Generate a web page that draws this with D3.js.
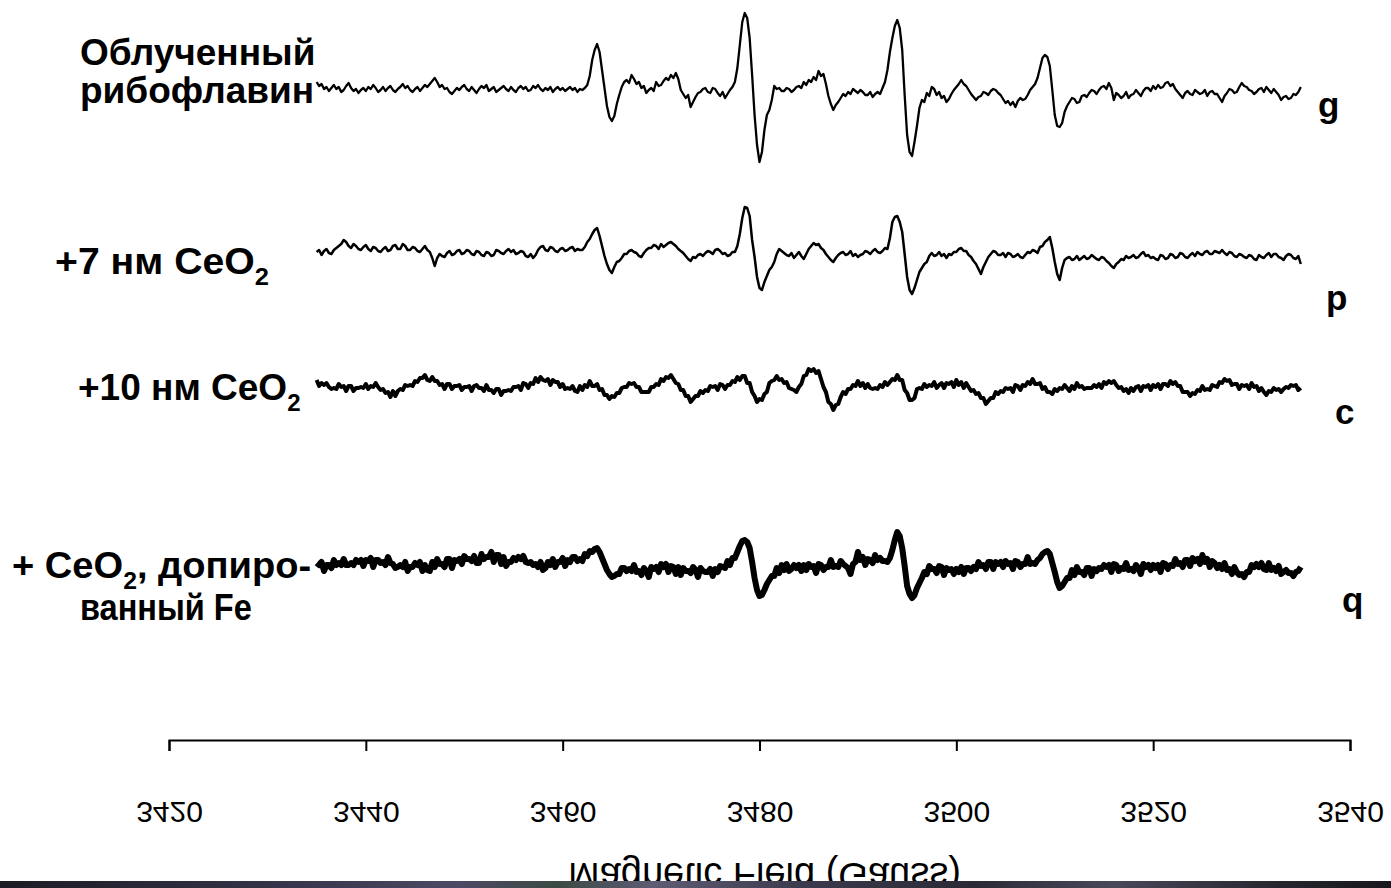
<!DOCTYPE html>
<html>
<head>
<meta charset="utf-8">
<script src="https://cdn.jsdelivr.net/npm/d3@7"></script>
<style>
  html, body { margin: 0; padding: 0; background: #fff; }
  svg { display: block; }
  .lbl { font-family: "Liberation Sans", Arial, sans-serif; font-weight: bold; fill: #000; }
  .axis text { font-family: "Liberation Sans", Arial, sans-serif; fill: #000; }
</style>
</head>
<body>
<div id="chart"></div>
<script>
// ESR spectra, field sweep 3435..3535 G, one sample every 0.25 G
var fieldStart = 3435, fieldStep = 0.25;
var tickFields = [3420, 3440, 3460, 3480, 3500, 3520, 3540];
var seriesNames = ["g", "p", "c", "q"];
var seriesOffsets = [650, 488, 353, 172];   // vertical stacking of the spectra (a.u.)

var specG = [8,4,6,1,3,-1,2,5,1,3,-2,0,4,7,2,-1,1,-3,0,2,
  -1,3,1,5,2,-2,0,3,-1,2,4,0,-2,1,3,6,2,4,0,-2,
  1,3,-1,2,5,3,6,9,12,8,3,5,1,2,-2,-4,-1,2,0,3,
  5,1,-1,3,0,-3,1,4,2,5,-1,1,3,-2,0,2,4,1,-1,3,
  0,-2,2,4,1,3,-1,0,4,2,5,1,-1,2,0,3,-2,1,3,0,
  2,-1,1,3,0,2,-2,1,0,2,5,14,30,40,46,38,20,2,-16,-27,
  -31,-26,-14,-5,3,8,10,7,15,11,6,8,2,4,-3,0,2,-1,8,4,
  5,9,12,10,15,12,17,11,0,-4,-8,-5,-17,-12,-7,-3,-2,1,2,-2,
  -3,2,1,-3,-6,-2,-8,-4,0,3,8,22,45,68,77,72,52,15,-25,-55,
  -72,-62,-40,-25,-20,-10,4,1,2,-1,-1,2,1,-2,0,3,4,2,8,5,
  10,8,13,10,19,14,16,6,-6,-14,-20,-15,-12,-8,-4,-6,-2,-4,1,-1,
  -3,0,-2,-5,-5,-2,-7,-4,-2,-4,2,8,20,38,52,64,70,62,40,-5,
  -45,-62,-66,-52,-36,-18,-10,-12,-3,-6,3,1,-5,-2,-8,-6,-12,-9,-4,0,
  3,6,10,6,4,0,-4,-7,-10,-7,-6,-2,-3,-5,-1,1,0,-3,-5,-9,
  -13,-11,-15,-12,-17,-11,-8,-10,-9,-5,0,3,6,12,22,32,35,33,24,0,
  -25,-36,-37,-33,-22,-16,-12,-8,-9,-13,-12,-6,-5,-7,-3,0,-1,-4,0,3,
  4,1,7,2,-10,-3,-5,-8,-6,-2,-8,-5,-4,0,-3,-6,-1,2,2,-1,
  4,1,5,2,3,7,8,4,6,1,-2,-5,-8,-3,-1,-4,-5,0,-2,-4,
  -3,0,-6,-2,-1,-4,-4,-8,-12,-6,-3,1,0,-3,-2,3,7,4,3,0,
  -1,-4,-2,1,2,-2,3,0,-3,1,-2,-5,-10,-7,-6,-9,-8,-4,-5,-2,
  3];

var specP = [0,2,-3,1,3,-1,-2,2,4,6,8,12,10,6,4,8,6,3,2,5,
  7,3,1,5,4,1,0,3,5,1,2,6,7,3,3,8,6,2,2,5,
  4,1,0,3,6,2,0,-6,-14,-6,-2,-4,-5,-1,1,-3,-2,1,2,-2,
  -1,2,1,-2,-3,1,0,-3,-4,0,-1,-4,-3,2,1,-1,-2,1,3,0,
  2,-2,-1,1,0,-4,-5,-2,-6,-3,2,5,6,2,1,5,4,1,0,3,
  4,1,2,4,5,1,3,2,2,5,10,13,18,22,24,16,6,-4,-12,-18,
  -21,-15,-10,-9,-6,-2,-2,1,2,0,-1,-4,-5,-1,2,4,4,7,6,3,
  8,5,7,9,10,8,6,3,1,-1,-4,-7,-9,-5,-6,-3,-2,-4,-1,1,
  0,-2,2,3,1,-2,-1,-4,-3,0,0,6,18,34,45,44,36,12,-5,-25,
  -36,-38,-30,-24,-18,-15,-10,-2,3,1,-1,-3,-4,-1,-6,-3,0,-4,-7,-2,
  3,6,9,7,8,4,2,-2,-5,-8,-10,-6,-3,-1,0,-3,-2,1,-4,-2,
  -5,-3,-2,1,0,-2,1,3,0,-1,1,4,3,14,30,35,36,30,20,-2,
  -25,-38,-42,-36,-28,-20,-16,-12,-10,-4,-1,-4,-3,0,-4,-2,-6,-2,-3,0,
  0,3,4,1,1,-3,-5,-9,-12,-17,-22,-15,-10,-5,-2,1,0,-3,-3,-1,
  -5,-1,-2,-5,-4,-2,-5,-6,-3,0,-1,2,1,-1,5,6,10,12,15,4,
  -10,-22,-28,-16,-8,-6,-5,-8,-7,-4,-8,-6,-4,-7,-6,-3,-5,-7,-8,-5,
  -6,-9,-11,-14,-16,-12,-10,-7,-8,-4,-6,-5,-3,-6,-5,-2,0,-4,-3,-6,
  -5,-7,-8,-3,-4,-7,-6,-2,-3,-6,-5,-1,-2,-5,-6,-3,-1,-4,0,-2,
  -3,0,1,-2,-2,1,0,-1,2,-1,-3,0,-1,-4,-5,-2,-3,-5,-6,-3,
  -4,-7,-8,-3,-5,-6,-3,-1,-5,-2,-2,-5,-6,-8,-4,-2,-3,-6,-7,-4,
  -12];

var specC = [7,1,4,2,4,0,-2,-1,-2,3,0,1,-4,1,1,-4,-1,-1,0,-1,
  3,-2,1,0,4,0,-3,-2,-6,-5,-10,-4,-9,-4,-2,-3,2,1,2,1,
  6,5,9,9,12,7,6,10,6,6,2,3,-2,3,3,-2,1,1,2,-3,
  0,0,1,-4,1,2,-1,-1,-4,2,-3,-3,-6,-2,-2,-8,-4,-4,-3,-4,
  0,0,1,-3,4,3,-1,4,3,9,5,10,7,6,8,2,7,5,5,0,
  3,-2,-1,-2,1,-4,-5,1,-3,2,0,6,1,1,3,-3,-2,-8,-8,-12,
  -9,-10,-6,-6,-1,0,0,4,3,4,0,0,-5,-5,-5,-5,0,0,3,2,
  8,6,10,9,12,8,4,3,-3,-3,-9,-9,-15,-12,-9,-9,-4,-6,-3,-4,
  1,0,1,-3,3,2,-2,2,2,6,5,10,7,11,11,4,4,-5,-9,-15,
  -12,-13,-7,-5,4,6,7,11,7,8,4,5,-1,-2,-3,-5,0,3,11,12,
  18,16,18,14,16,8,0,-5,-15,-17,-23,-18,-17,-10,-5,-7,-2,-2,2,1,
  6,1,4,-1,3,-1,-2,-1,-2,2,0,5,2,5,8,7,12,7,7,-3,
  -6,-13,-13,-11,-2,-1,-2,3,0,2,1,5,-1,2,4,-1,4,3,5,0,
  7,2,5,-1,4,0,-4,-3,-7,-6,-11,-11,-17,-14,-11,-11,-5,-7,-4,-5,
  -1,-2,-1,-5,2,1,-3,2,1,5,3,8,3,3,4,-2,0,-5,-5,-7,
  -2,-4,-1,-2,2,-1,-4,1,-2,4,0,1,-2,-1,-1,-1,2,0,3,-1,
  5,3,6,4,6,2,-1,0,-4,-2,-6,-1,-4,0,1,-4,1,0,2,-3,
  2,0,3,-2,3,3,1,6,3,5,1,1,-5,-5,-5,-9,-6,-7,-3,-4,
  1,-3,-2,-3,2,1,0,5,4,8,6,7,2,3,3,-2,2,1,2,-2,
  4,0,1,-4,-1,-5,-8,-4,-5,-1,-3,-2,-5,-2,0,-1,2,1,2,-3,
  -1];

var specQ = [5,3,6,-3,3,3,0,8,3,5,3,9,3,3,5,3,8,6,8,2,
  8,7,10,1,8,8,5,6,3,11,5,4,0,1,3,1,6,-3,1,1,
  5,3,6,-3,3,-2,-3,6,1,9,4,4,1,9,9,0,8,7,9,4,
  12,9,9,7,12,5,5,14,9,11,11,16,6,13,13,4,11,2,6,6,
  10,8,11,9,12,6,5,6,3,4,1,6,-2,0,6,3,9,1,6,6,
  10,2,8,6,11,11,7,9,7,14,12,17,16,19,20,16,10,4,-2,-6,
  -9,-8,-6,-6,0,0,-3,-1,-3,3,-4,-3,-7,0,-3,-9,1,-1,1,-4,
  4,1,4,-4,2,1,-6,1,-7,0,-3,-3,-5,1,-2,-9,0,-3,-4,-4,
  -1,-8,-1,-4,2,1,0,7,3,10,10,16,22,27,28,26,20,6,-10,-22,
  -28,-27,-22,-16,-12,-8,-8,0,-5,3,-2,4,-3,-1,3,0,3,-3,3,-2,
  4,1,2,-5,4,3,-2,1,1,8,1,2,1,7,4,2,0,-6,4,6,
  16,8,11,3,9,8,5,13,8,10,7,7,6,10,18,28,36,32,20,2,
  -18,-26,-30,-27,-20,-15,-10,-4,-6,2,-1,-1,-5,2,1,-7,0,-2,-1,-6,
  -1,-4,1,-6,0,0,-3,1,-1,6,2,3,-1,6,6,-1,6,4,6,1,
  7,4,5,-1,7,6,1,4,4,11,4,5,4,8,10,14,16,17,14,5,
  -4,-14,-20,-18,-14,-10,-10,-2,-7,1,-4,-4,-7,0,0,-8,-1,-3,0,-1,
  3,1,3,-4,4,3,-3,0,-1,5,-2,-1,-3,3,0,-6,4,1,3,-2,
  3,0,3,-4,5,4,-1,3,2,9,4,5,1,8,8,2,10,7,9,4,
  13,6,9,1,7,5,0,3,-1,5,-2,-1,-6,1,-4,-7,-6,-9,-4,-4,
  3,1,4,1,5,-1,-2,5,-2,0,-3,2,-6,-4,-2,-5,-5,-8,-4,-3,
  1];

var spectra = [specG, specP, specC, specQ];
var strokeWidths = [2.3, 2.5, 4, 6];

var width = 1391, height = 888;

var svg = d3.select("#chart").append("svg")
    .attr("width", width)
    .attr("height", height);

var x = d3.scaleLinear().domain([3420, 3540]).range([169, 1350]);
var y = d3.scaleLinear().domain([0, 740]).range([740, 0]);

var line = d3.line()
    .x(function(d) { return x(d.field); })
    .y(function(d) { return y(d.value); });

spectra.forEach(function(vals, k) {
  var pts = vals.map(function(v, i) {
    return { field: fieldStart + i * fieldStep, value: v + seriesOffsets[k] };
  });
  svg.append("path")
    .datum(pts)
    .attr("fill", "none")
    .attr("stroke", "#000")
    .attr("stroke-width", strokeWidths[k])
    .attr("stroke-linejoin", "round")
    .attr("d", line);
});

// axis at the bottom, labels mirrored top-to-bottom as in the source slide
var axis = svg.append("g")
    .attr("class", "axis")
    .attr("transform", "translate(0,740)")
    .call(d3.axisBottom(x).tickValues(tickFields).tickFormat(d3.format("d")).tickSize(11).tickSizeOuter(11));

axis.select(".domain").attr("stroke", "#000").attr("stroke-width", 2);
axis.selectAll(".tick line").attr("stroke", "#000").attr("stroke-width", 2);
axis.selectAll(".tick text")
    .attr("y", null)
    .attr("dy", null)
    .attr("font-size", 30)
    .attr("transform", "translate(0,62) scale(1,-1)");

svg.append("text")
    .attr("class", "axis")
    .attr("x", 0).attr("y", 0)
    .attr("text-anchor", "middle")
    .attr("font-family", "Liberation Sans, Arial, sans-serif")
    .attr("font-size", 38)
    .attr("transform", "translate(" + x(3480.5) + ",863) scale(1,-1)")
    .text("Magnetic Field (Gauss)");

// sample labels on the left
function label(parts, px, py, size, sx) {
  var t = svg.append("text").attr("class", "lbl")
      .attr("x", 0).attr("y", 0).attr("font-size", size)
      .attr("transform", "translate(" + px + "," + py + ") scale(" + sx + ",1)");
  var shift = 0;
  parts.forEach(function(p) {
    var ts = t.append("tspan").text(p.s);
    if (p.sub) {
      ts.attr("font-size", size * 0.65).attr("dy", 11 - shift);
      shift = 11;
    } else if (shift) {
      ts.attr("dy", -shift);
      shift = 0;
    }
  });
}
label([{s: "Облученный"}], 80, 65, 37, 1);
label([{s: "рибофлавин"}], 80, 103, 37, 1);
label([{s: "+7 нм CeO"}, {s: "2", sub: true}], 55, 274, 37, 1.06);
label([{s: "+10 нм CeO"}, {s: "2", sub: true}], 78, 400, 37, 1);
label([{s: "+ CeO"}, {s: "2", sub: true}, {s: ", допиро-"}], 12, 578, 37, 1.03);
label([{s: "ванный Fe"}], 80, 620, 37, 0.88);

// curve letters on the right
var letterPos = [[1318, 117], [1326, 310], [1335, 424], [1342, 612]];
seriesNames.forEach(function(n, k) {
  svg.append("text").attr("class", "lbl")
    .attr("x", letterPos[k][0]).attr("y", letterPos[k][1])
    .attr("font-size", 35)
    .text(n);
});

// dark strip along the bottom edge (next slide image showing through)
var grad = svg.append("defs").append("linearGradient").attr("id", "strip");
[["0%", "#1c1c24"], ["20%", "#34344a"], ["33%", "#4c4a64"], ["40%", "#3b4a44"], ["47%", "#5e5c74"],
 ["58%", "#3a3a4c"], ["70%", "#2a2a36"], ["80%", "#48485a"], ["92%", "#26262e"], ["100%", "#16161c"]]
  .forEach(function(s) { grad.append("stop").attr("offset", s[0]).attr("stop-color", s[1]); });
svg.append("rect")
    .attr("x", 0).attr("y", 881).attr("width", width).attr("height", height - 881)
    .attr("fill", "url(#strip)");
</script>
</body>
</html>
